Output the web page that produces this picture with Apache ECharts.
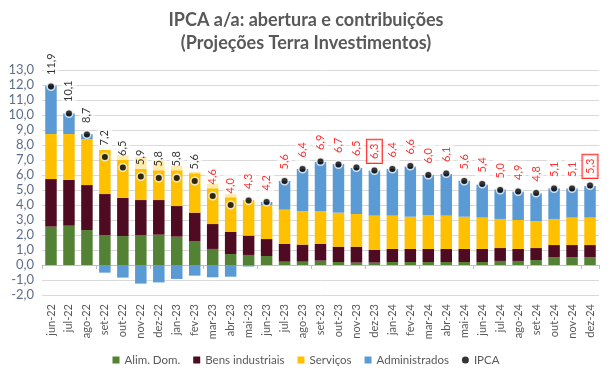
<!DOCTYPE html>
<html><head><meta charset="utf-8">
<script src="https://cdn.jsdelivr.net/npm/echarts@6/dist/echarts.min.js"></script>
<style>html,body{margin:0;padding:0;background:#fff}#c{width:612px;height:378px}</style>
</head><body><div id="c"></div>
<script>
const categories = ['jun-22','jul-22','ago-22','set-22','out-22','nov-22','dez-22','jan-23','fev-23','mar-23','abr-23','mai-23','jun-23','jul-23','ago-23','set-23','out-23','nov-23','dez-23','jan-24','fev-24','mar-24','abr-24','mai-24','jun-24','jul-24','ago-24','set-24','out-24','nov-24','dez-24'];
const alimDom = [2.56,2.62,2.33,2.0,1.93,2.0,2.02,1.89,1.6,1.07,0.73,0.67,0.6,0.22,0.22,0.29,0.2,0.16,0.16,0.2,0.2,0.2,0.2,0.2,0.2,0.27,0.27,0.33,0.51,0.51,0.51];
const bensInd = [3.17,3.05,3.0,2.73,2.54,2.33,2.31,2.04,1.89,1.66,1.47,1.29,1.13,1.2,1.14,1.13,1.02,1.06,0.84,0.87,0.87,0.87,0.87,0.87,0.87,0.86,0.8,0.8,0.82,0.82,0.82];
const servicos = [3.0,3.06,3.05,2.94,2.82,2.85,2.63,2.67,2.73,2.69,2.53,2.37,2.27,2.27,2.24,2.18,2.27,2.18,2.29,2.22,2.15,2.26,2.22,2.15,2.09,1.94,1.93,1.8,1.74,1.83,1.83];
const administrados = [3.23,1.38,0.35,-0.51,-0.84,-1.24,-1.16,-0.93,-0.71,-0.82,-0.78,-0.1,0.2,1.91,2.8,3.27,3.24,3.07,3.0,3.11,3.34,2.67,2.78,2.4,2.2,1.97,1.89,1.85,2.04,1.95,2.11];
const ipca = [11.9,10.1,8.7,7.2,6.5,5.9,5.8,5.8,5.6,4.6,4.0,4.3,4.2,5.6,6.4,6.9,6.7,6.5,6.3,6.4,6.6,6.0,6.1,5.6,5.4,5.0,4.9,4.8,5.1,5.1,5.3];
const firstProjection = 'mar-23';
const boxedLabels = ['dez-23','dez-24'];

const FONT = 'Lato';
const fmt = v => Number(v).toFixed(1).replace('.', ',');
const projStart = categories.indexOf(firstProjection);
const ipcaData = ipca.map((v, i) => {
  const boxed = boxedLabels.includes(categories[i]);
  return {
    value: v,
    label: {
      color: i >= projStart ? '#ff0000' : '#000000',
      borderColor: boxed ? '#ff0000' : 'transparent',
      borderWidth: boxed ? 1 : 0
    }
  };
});

const chart = echarts.init(document.getElementById('c'));
const barCommon = { type: 'bar', stack: 'total', barWidth: '64%', xAxisIndex: 0 };
chart.setOption({
  animation: false,
  backgroundColor: '#ffffff',
  textStyle: { fontFamily: FONT },
  title: {
    text: 'IPCA a/a: abertura e contribuições\n(Projeções Terra Investimentos)',
    left: 'center', top: 4,
    textStyle: { fontFamily: FONT, fontWeight: 'bold', fontSize: 18, color: '#595959', lineHeight: 23 }
  },
  legend: {
    top: 349, left: 'center', itemWidth: 7, itemHeight: 7, itemGap: 13,
    textStyle: { fontFamily: FONT, fontSize: 11.5, color: '#595959' },
    data: [
      { name: 'Alim. Dom.', icon: 'rect' },
      { name: 'Bens industriais', icon: 'rect' },
      { name: 'Serviços', icon: 'rect' },
      { name: 'Administrados', icon: 'rect' },
      { name: 'IPCA', icon: 'circle', itemStyle: { color: '#000', borderWidth: 0 } }
    ]
  },
  grid: { left: 42, right: 13, top: 70, bottom: 83 },
  xAxis: [
    {
      type: 'category', data: categories, position: 'bottom',
      axisLine: { show: true, onZero: true, lineStyle: { color: '#bfbfbf' } },
      axisTick: { show: true, length: 4, lineStyle: { color: '#bfbfbf' } },
      axisLabel: { show: false }, splitLine: { show: false }
    },
    {
      type: 'category', data: categories, position: 'bottom',
      axisLine: { show: false, onZero: false }, axisTick: { show: false },
      axisLabel: { rotate: 90, margin: 9, fontFamily: FONT, fontSize: 11, color: '#595959', interval: 0 }
    }
  ],
  yAxis: {
    type: 'value', min: -2, max: 13, interval: 1,
    axisLine: { show: false }, axisTick: { show: false },
    axisLabel: { formatter: fmt, fontFamily: FONT, fontSize: 13, color: '#5d6e8a', margin: 8 },
    splitLine: { lineStyle: { color: '#d9d9d9' } }
  },
  series: [
    Object.assign({ name: 'Alim. Dom.', data: alimDom, itemStyle: { color: '#548235' } }, barCommon),
    Object.assign({ name: 'Bens industriais', data: bensInd, itemStyle: { color: '#4f0b22' } }, barCommon),
    Object.assign({ name: 'Serviços', data: servicos, itemStyle: { color: '#ffc000' } }, barCommon),
    Object.assign({ name: 'Administrados', data: administrados, itemStyle: { color: '#5b9bd5' } }, barCommon),
    {
      name: 'IPCA', type: 'scatter', xAxisIndex: 0, data: ipcaData, z: 5,
      symbol: 'circle', symbolSize: 7.5,
      itemStyle: { color: '#000000', borderColor: '#ffffff', borderWidth: 1.5 },
      label: {
        show: true, position: 'top', distance: 3, rotate: 90, align: 'left', verticalAlign: 'middle',
        fontFamily: FONT, fontSize: 11, formatter: p => fmt(p.value),
        backgroundColor: 'rgba(255,255,255,0.85)', padding: [2, 4, 2, 4]
      }
    }
  ]
});
</script>
</body></html>
